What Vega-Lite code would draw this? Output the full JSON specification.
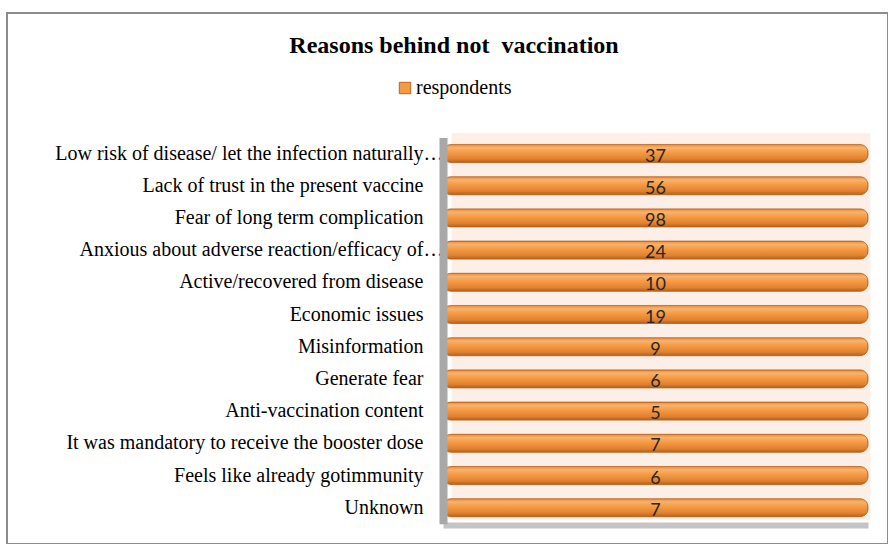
{
  "$schema": "https://vega.github.io/schema/vega-lite/v6.json",
  "width": 881,
  "height": 531,
  "autosize": "none",
  "padding": {"left": 7, "top": 13, "right": 0, "bottom": 0},
  "background": "white",
  "config": {
    "view": {"stroke": "#8c8c8c", "strokeWidth": 2},
    "font": "Liberation Serif"
  },
  "title": {
    "text": "Reasons behind not\u00a0 vaccination",
    "font": "Liberation Serif",
    "fontSize": 24,
    "fontWeight": "bold",
    "color": "#000000",
    "anchor": "middle",
    "frame": "group",
    "baseline": "alphabetic",
    "offset": -64,
    "dx": 6.5
  },
  "data": {
    "values": [
      {"reason": "Low risk of disease/ let the infection naturally…", "respondents": 37},
      {"reason": "Lack of trust in the present vaccine", "respondents": 56},
      {"reason": "Fear of long term complication", "respondents": 98},
      {"reason": "Anxious about adverse reaction/efficacy of…", "respondents": 24},
      {"reason": "Active/recovered from disease", "respondents": 10},
      {"reason": "Economic issues", "respondents": 19},
      {"reason": "Misinformation", "respondents": 9},
      {"reason": "Generate fear", "respondents": 6},
      {"reason": "Anti-vaccination content", "respondents": 5},
      {"reason": "It was mandatory to receive the booster dose", "respondents": 7},
      {"reason": "Feels like already gotimmunity", "respondents": 6},
      {"reason": "Unknown", "respondents": 7}
    ]
  },
  "encoding": {
    "y": {
      "field": "reason",
      "type": "nominal",
      "sort": null,
      "scale": {"range": [124.4, 510.8], "paddingInner": 0, "paddingOuter": 0},
      "axis": {
        "title": null,
        "offset": -436,
        "domainColor": "#a8a8a8",
        "domainWidth": 8,
        "ticks": false,
        "tickSize": 0,
        "labelPadding": 0,
        "labelFont": "Liberation Serif",
        "labelFontSize": 20,
        "labelColor": "#000000",
        "labelLimit": 0,
        "labelExpr": "indexof(datum.label, '\u2026') >= 0 ? datum.label : datum.label + '\u00a0\u00a0\u00a0\u00a0\u200b'"
      }
    }
  },
  "layer": [
    {
      "mark": {"type": "rect", "color": "#fcefe7", "stroke": "#fcefe7", "strokeWidth": 0.6, "xOffset": 9, "x2Offset": 2, "yOffset": -4, "y2Offset": -4},
      "encoding": {
        "x": {"datum": 0, "type": "quantitative", "scale": {"domain": [0, 1], "range": [436, 861]}, "axis": {"title": null, "labels": false, "ticks": false, "grid": false, "domainColor": "#c4c4c4", "domainWidth": 6, "offset": -19}},
        "x2": {"datum": 1}
      }
    },
    {
      "mark": {"type": "bar", "height": {"band": 0.56}, "cornerRadius": 8},
      "encoding": {
        "x": {"field": "respondents", "type": "quantitative", "stack": "normalize"},
        "color": {
          "datum": "respondents",
          "type": "nominal",
          "scale": {"range": ["#f39a46"]},
          "legend": {
            "title": null,
            "orient": "none",
            "legendX": 388,
            "legendY": 65,
            "symbolType": "square",
            "symbolSize": 130,
            "symbolStrokeColor": "#c0651b",
            "symbolStrokeWidth": 1,
            "labelFont": "Liberation Serif",
            "labelFontSize": 20,
            "labelColor": "#000000",
            "labelOffset": 1
          }
        }
      }
    },
    {
      "mark": {
        "type": "bar",
        "height": {"band": 0.56},
        "cornerRadius": 8,
        "stroke": "#b8641f",
        "strokeWidth": 0.8,
        "fill": {
          "gradient": "linear",
          "x1": 0, "y1": 0, "x2": 0, "y2": 1,
          "stops": [
            {"offset": 0, "color": "#e8893b"},
            {"offset": 0.18, "color": "#f9b26c"},
            {"offset": 0.45, "color": "#f49a45"},
            {"offset": 0.8, "color": "#e2812f"},
            {"offset": 1, "color": "#b0601e"}
          ]
        }
      },
      "encoding": {
        "x": {"field": "respondents", "type": "quantitative", "stack": "normalize"}
      }
    },
    {
      "mark": {"type": "text", "font": "Lato", "fontSize": 18, "color": "#262626", "baseline": "middle", "align": "center", "dy": 3},
      "encoding": {
        "x": {"datum": 0.5, "type": "quantitative"},
        "text": {"field": "respondents", "type": "quantitative"}
      }
    }
  ]
}
